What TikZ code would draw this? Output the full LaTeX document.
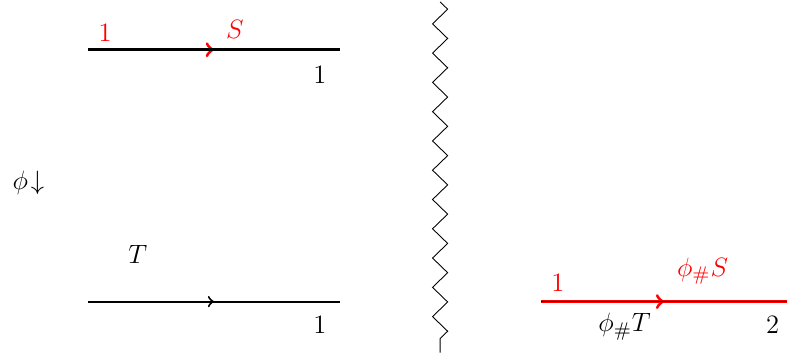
\documentclass[tikz,border=0pt]{standalone}
\usetikzlibrary{decorations.pathmorphing,decorations.markings}
\begin{document}
\begin{tikzpicture}[every node/.style={inner sep=1pt, font=\fontsize{12.5pt}{15pt}\selectfont},
    midarrow/.style={decoration={markings, mark=at position 0.5 with {\arrow{>}}}, postaction={decorate}},
    redchain/.style={red, line width=1.4pt},
    blackchain/.style={black, line width=0.9pt}]
    \path[use as bounding box] (-1.4,-0.89) rectangle (11.1,4.79);
    \coordinate (A) at (0,4);
    \coordinate (B) at (4,4);
    \coordinate (C) at (0,0);
    \coordinate (D) at (4,0);
    \coordinate (E) at (7.2,0);
    \coordinate (F) at (11.1,0);
    \coordinate (Zt) at (5.59,4.76);
    \coordinate (Zb) at (5.59,-0.81);

    % Left, upper
    \draw[redchain, midarrow] (A) -- (B);
    \draw[black, line width=1.2pt] (A) -- (B);
    \node[red] (oneS) at (0.27,4.27) {$1$};
    \node[red] (S) at (2.33,4.32) {$S$};
    \node (oneA) at (3.68,3.60) {$1$};

    \node (phi) at (-0.95,1.89) {$\phi\!\downarrow$};

    % Left, lower
    \draw[blackchain, midarrow] (C) -- (D);
    \node (T) at (0.79,0.75) {$T$};
    \node (oneC) at (3.68,-0.37) {$1$};

    % Separator
    \draw[decorate, decoration={zigzag, segment length=0.465cm, amplitude=0.12cm}] (Zt) -- (Zb);

    % Right
    \draw[redchain, midarrow] (E) -- (F);
    \draw[black, line width=0.6pt] (E) -- (F);
    \node[red] (oneE) at (7.46,0.29) {$1$};
    \node[red] (phiS) at (9.76,0.48) {$\phi_\# S$};
    \node (phiT) at (8.52,-0.40) {$\phi_\# T$};
    \node (two) at (10.87,-0.37) {$2$};
    \end{tikzpicture}
\end{document}
